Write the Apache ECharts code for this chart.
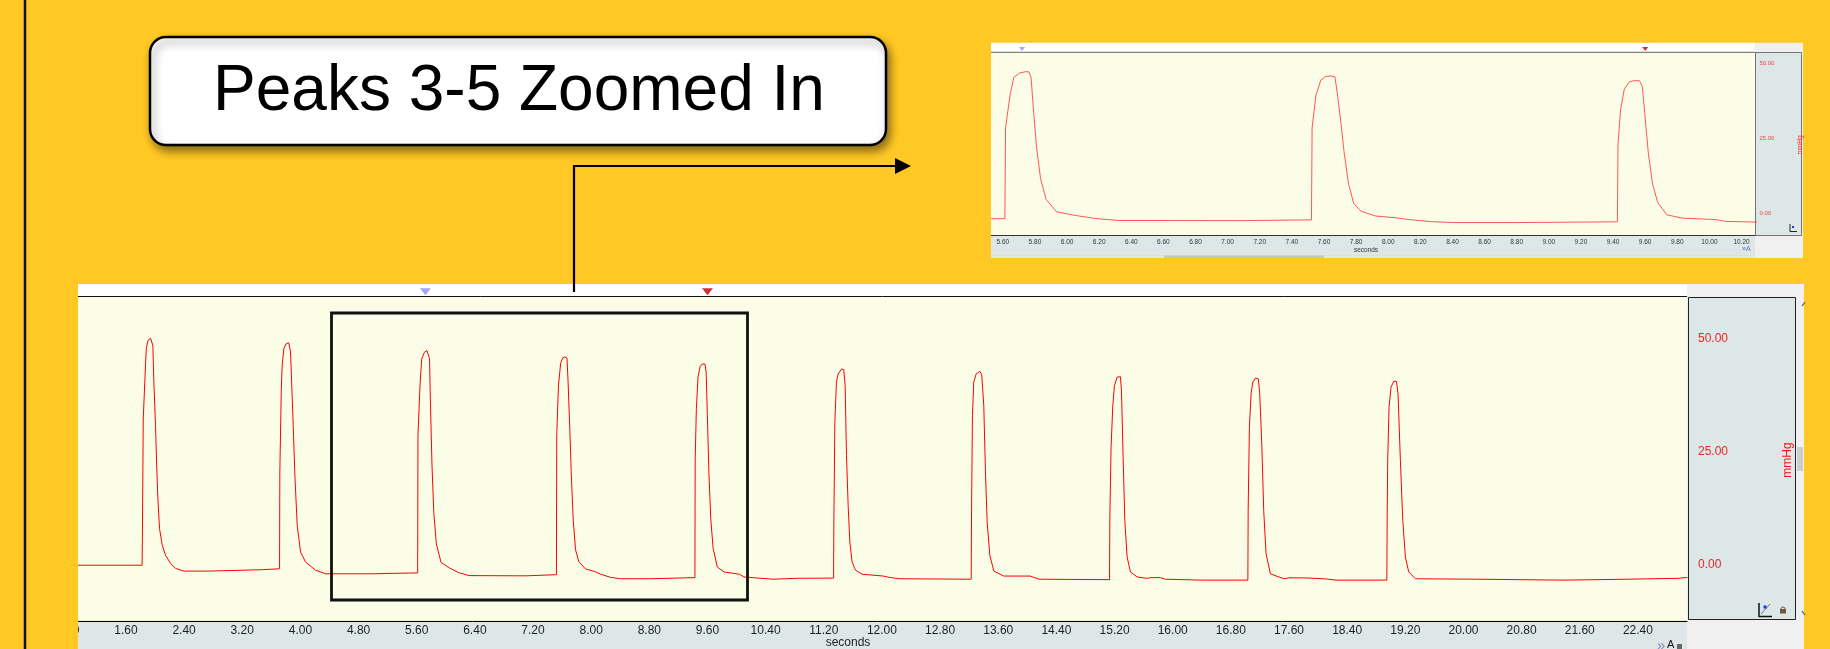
<!DOCTYPE html>
<html>
<head>
<meta charset="utf-8">
<title>Peaks 3-5 Zoomed In</title>
<script src="https://cdn.jsdelivr.net/npm/echarts@6/dist/echarts.min.js"></script>
<style>
    html, body { margin: 0; padding: 0; background: #FFC825; }
    #chart { width: 1830px; height: 649px; }
</style>
</head>
<body>
<div id="chart"></div>
<script>
// pressure trace, [seconds, mmHg], one array per beat
var beat1 = [[0.80, -0.2], [1.822, -0.2], [1.826, 6.0], [1.838, 32.2], [1.861, 41.0], [1.879, 47.6], [1.902, 49.5], [1.939, 50.0], [1.962, 50.1], [1.970, 48.4], [1.984, 40.3], [2.007, 30.7], [2.021, 22.6], [2.039, 14.5], [2.062, 7.9], [2.099, 4.2], [2.145, 2.0], [2.213, 0.2], [2.282, -0.9], [2.397, -1.5], [2.741, -1.5], [2.745, -1.3], [3.460, -1.2], [3.465, -1.0], [3.713, -1.0]];
var beat2 = [[3.717, 20.4], [3.736, 38.1], [3.749, 44.0], [3.772, 47.7], [3.804, 48.8], [3.841, 49.0], [3.864, 47.0], [3.873, 43.2], [3.901, 30.7], [3.924, 19.7], [3.956, 8.6], [4.002, 2.7], [4.071, 0.5], [4.208, -1.3], [4.346, -2.1], [4.988, -2.1], [4.992, -1.9], [5.613, -1.9]];
var beat3 = [[5.617, 28.5], [5.645, 39.5], [5.668, 45.4], [5.705, 46.9], [5.740, 47.3], [5.762, 47.3], [5.776, 45.5], [5.790, 35.0], [5.810, 22.0], [5.835, 11.5], [5.870, 4.5], [5.935, 0.4], [6.050, -0.8], [6.170, -1.8], [6.320, -2.5], [7.100, -2.55], [7.105, -2.3], [7.522, -2.3]];
var beat4 = [[7.526, 28.5], [7.550, 39.5], [7.580, 44.5], [7.610, 45.7], [7.640, 45.9], [7.668, 45.6], [7.682, 40.5], [7.706, 30.0], [7.725, 20.5], [7.752, 10.0], [7.785, 3.2], [7.830, 0.6], [7.920, -1.0], [8.050, -1.6], [8.130, -2.2], [8.270, -2.9], [8.400, -3.2], [8.800, -3.2], [8.805, -2.95], [9.427, -2.95]];
var beat5 = [[9.431, 23.3], [9.447, 34.5], [9.470, 41.5], [9.500, 43.8], [9.525, 44.3], [9.565, 44.3], [9.582, 42.5], [9.598, 33.0], [9.620, 20.0], [9.645, 10.0], [9.678, 3.5], [9.735, -0.6], [9.830, -1.7], [10.040, -2.2], [10.100, -2.8], [10.500, -3.3], [10.830, -3.1], [11.335, -3.05]];
var beat6 = [[11.338, 7.9], [11.352, 31.4], [11.374, 40.3], [11.397, 42.1], [11.443, 43.2], [11.475, 43.1], [11.494, 39.5], [11.512, 24.1], [11.535, 13.0], [11.558, 4.9], [11.590, 0.5], [11.636, -1.3], [11.727, -2.2], [12.020, -2.6], [12.100, -2.9], [12.250, -3.2], [13.228, -3.3]];
var beat7 = [[13.232, 10.0], [13.245, 32.9], [13.263, 40.3], [13.296, 42.1], [13.346, 42.7], [13.373, 41.9], [13.401, 35.1], [13.424, 20.4], [13.447, 9.4], [13.484, 2.0], [13.539, -1.5], [13.676, -2.6], [14.040, -2.6], [14.160, -3.3], [15.131, -3.4]];
var beat8 = [[15.135, 10.0], [15.152, 25.9], [15.175, 34.8], [15.198, 39.5], [15.235, 41.4], [15.281, 41.5], [15.295, 38.4], [15.318, 23.7], [15.341, 9.7], [15.373, 1.6], [15.419, -1.7], [15.510, -2.8], [15.648, -3.1], [15.700, -2.95], [15.830, -2.95], [15.900, -3.3], [16.380, -3.5], [17.034, -3.5]];
var beat9 = [[17.038, 12.0], [17.055, 30.3], [17.078, 37.7], [17.101, 40.3], [17.142, 41.2], [17.179, 41.0], [17.197, 37.7], [17.225, 26.7], [17.252, 11.9], [17.284, 2.4], [17.344, -2.1], [17.527, -3.2], [17.600, -3.0], [17.800, -3.0], [18.080, -3.2], [18.260, -3.5], [18.946, -3.5]];
var beat10 = [[18.950, 10.0], [18.958, 23.0], [18.976, 34.8], [19.004, 39.2], [19.041, 40.5], [19.078, 40.5], [19.100, 37.7], [19.132, 23.0], [19.165, 9.7], [19.201, 1.6], [19.247, -1.7], [19.339, -3.2], [20.180, -3.3], [20.190, -3.5], [21.370, -3.5], [21.380, -3.3], [22.260, -3.3], [22.270, -3.1], [22.950, -3.1], [22.960, -2.9], [23.080, -2.9]];

var cursorTimes = [5.72, 9.60];           // the two cursor flags on top of each trace
var cursorColors = ['#8e8ef0', '#c00000'];
var pressureLabels = [0, 25, 50];         // mmHg values that get a label

var trace = [].concat(beat1, beat2, beat3, beat4, beat5, beat6, beat7, beat8, beat9, beat10);

var yellow = '#FFC825';
var panelBg = '#DEE7E8';
var plotBg = '#FBFDE6';

function pressureLabel(v) {
    for (var i = 0; i < pressureLabels.length; i++) {
        if (Math.abs(v - pressureLabels[i]) < 1e-6) {
            return pressureLabels[i].toFixed(2);
        }
    }
    return '';
}

var chart = echarts.init(document.getElementById('chart'));

var option = {
    animation: false,
    backgroundColor: yellow,
    grid: [
        {   // full recording
            left: 67.8, top: 296, width: 1619.2, height: 324.8,
            show: true, backgroundColor: plotBg, borderWidth: 0
        },
        {   // zoomed copy, peaks 3-5
            left: 970.7, top: 52.3, width: 784.3, height: 183.1,
            show: true, backgroundColor: plotBg, borderWidth: 0
        }
    ],
    xAxis: [
        {
            gridIndex: 0, type: 'value', min: 0.8, max: 23.075, interval: 0.8,
            axisLine: { onZero: false, lineStyle: { color: '#000', width: 1 } },
            axisTick: { show: false },
            splitLine: { show: false },
            axisLabel: {
                margin: 4, fontSize: 12, color: '#1e1e1e',
                fontFamily: '"Liberation Sans", Arial, sans-serif',
                showMaxLabel: false,
                formatter: function(v) { return v.toFixed(2); }
            }
        },
        {
            gridIndex: 1, type: 'value', min: 5.4, max: 10.284, interval: 0.2,
            axisLine: { onZero: false, lineStyle: { color: '#333', width: 1 } },
            axisTick: { show: false },
            splitLine: { show: false },
            axisLabel: {
                margin: 3, fontSize: 6.5, color: '#333',
                fontFamily: '"Liberation Sans", Arial, sans-serif',
                showMaxLabel: false,
                formatter: function(v) { return v < 5.5 ? '' : v.toFixed(2); }
            }
        }
    ],
    yAxis: [
        {
            gridIndex: 0, type: 'value', position: 'right',
            min: -12.5, max: 59.36, interval: 12.5,
            axisLine: { show: false },
            axisTick: { show: false },
            splitLine: { show: false },
            axisLabel: {
                margin: 11, fontSize: 12, color: '#f02424',
                fontFamily: '"Liberation Sans", Arial, sans-serif',
                formatter: pressureLabel
            }
        },
        {
            gridIndex: 1, type: 'value', position: 'right',
            min: -7.5, max: 53.82, interval: 2.5,
            axisLine: { show: false },
            axisTick: { show: false },
            splitLine: { show: false },
            axisLabel: {
                margin: 4.4, fontSize: 6, color: '#f04848',
                fontFamily: '"Liberation Sans", Arial, sans-serif',
                formatter: pressureLabel
            }
        }
    ],
    series: [
        {
            type: 'line', xAxisIndex: 0, yAxisIndex: 0,
            data: trace, showSymbol: false, symbol: 'none',
            lineStyle: { color: '#ff0000', width: 1 }
        },
        {
            type: 'line', xAxisIndex: 1, yAxisIndex: 1,
            data: trace, showSymbol: false, symbol: 'none',
            lineStyle: { color: '#ff5656', width: 1 }
        },
        {
            type: 'scatter', xAxisIndex: 0, yAxisIndex: 0, clip: false,
            symbol: 'triangle', symbolRotate: 180, symbolSize: [11, 7],
            data: cursorTimes.map(function(t, i) {
                return { value: [t, 60.3], itemStyle: { color: cursorColors[i] } };
            })
        },
        {
            type: 'scatter', xAxisIndex: 1, yAxisIndex: 1, clip: false,
            symbol: 'triangle', symbolRotate: 180, symbolSize: [6, 4],
            data: cursorTimes.map(function(t, i) {
                return { value: [t, 54.9], itemStyle: { color: cursorColors[i] } };
            })
        }
    ],
    graphic: [
        // panel chrome of the full recording
        { type: 'rect', z: -5, shape: { x: 78, y: 284, width: 1609, height: 12 }, style: { fill: '#fff' } },
        { type: 'rect', z: -5, shape: { x: 1687, y: 284, width: 117, height: 365 }, style: { fill: '#F0F0F0' } },
        { type: 'rect', z: -4, shape: { x: 1688.5, y: 297.5, width: 107, height: 322 }, style: { fill: panelBg, stroke: '#222', lineWidth: 1 } },
        { type: 'rect', z: -5, shape: { x: 78, y: 621, width: 1609, height: 28 }, style: { fill: panelBg } },
        { type: 'rect', z: -4, shape: { x: 1797, y: 447, width: 6, height: 24 }, style: { fill: '#cdcdcd' } },
        { type: 'line', z: 1, shape: { x1: 78, y1: 296.5, x2: 1687, y2: 296.5 }, style: { stroke: '#111', lineWidth: 1 } },
        { type: 'polyline', z: 1, shape: { points: [[1802, 306], [1805, 302]] }, style: { stroke: '#555', lineWidth: 1.2 } },
        { type: 'polyline', z: 1, shape: { points: [[1802, 611], [1805, 615]] }, style: { stroke: '#555', lineWidth: 1.2 } },
        {
            type: 'text', z: 5, x: 1788, y: 460, rotation: Math.PI / 2,
            style: { text: 'mmHg', fontSize: 12, fontFamily: '"Liberation Sans", Arial, sans-serif', fill: '#ff1010', align: 'center', verticalAlign: 'middle' }
        },
        {
            type: 'text', z: 5, x: 848, y: 637,
            style: { text: 'seconds', fontSize: 12, fontFamily: '"Liberation Sans", Arial, sans-serif', fill: '#222', align: 'center', verticalAlign: 'top' }
        },
        {
            type: 'text', z: 5, x: 1657, y: 638,
            style: { text: '»', fontSize: 15, fontFamily: '"Liberation Sans", Arial, sans-serif', fill: '#8088c8', verticalAlign: 'top' }
        },
        {
            type: 'text', z: 5, x: 1667, y: 639,
            style: { text: 'A', fontSize: 11, fontFamily: '"Liberation Sans", Arial, sans-serif', fill: '#111', verticalAlign: 'top' }
        },
        { type: 'rect', z: 5, shape: { x: 1677, y: 644, width: 5, height: 5 }, style: { fill: '#666' } },
        // axis / lock icons
        { type: 'polyline', z: 5, shape: { points: [[1759, 603], [1759, 616.5], [1772, 616.5]] }, style: { stroke: '#111', lineWidth: 1.5, fill: null } },
        { type: 'line', z: 5, shape: { x1: 1761, y1: 614, x2: 1770, y2: 604 }, style: { stroke: '#555', lineWidth: 0.8 } },
        { type: 'rect', z: 5, shape: { x: 1763.5, y: 605.5, width: 3, height: 3 }, style: { fill: '#2030ff' } },
        { type: 'rect', z: 5, shape: { x: 1780, y: 609, width: 6, height: 4.5 }, style: { fill: '#6a5a40' } },
        { type: 'arc', z: 5, shape: { cx: 1783, cy: 609, r: 2, startAngle: Math.PI, endAngle: 0 }, style: { stroke: '#6a5a40', lineWidth: 1, fill: null } },

        // panel chrome of the zoomed copy
        { type: 'rect', z: -5, shape: { x: 991, y: 42.7, width: 764, height: 9.6 }, style: { fill: '#fff' } },
        { type: 'rect', z: -5, shape: { x: 1755, y: 42.7, width: 48, height: 215.3 }, style: { fill: '#F0F0F0' } },
        { type: 'rect', z: -4, shape: { x: 1755.5, y: 52.5, width: 46, height: 183 }, style: { fill: panelBg, stroke: '#555', lineWidth: 0.8 } },
        { type: 'rect', z: -5, shape: { x: 991, y: 235.4, width: 764, height: 20.1 }, style: { fill: panelBg } },
        { type: 'rect', z: -5, shape: { x: 991, y: 255.5, width: 764, height: 2.5 }, style: { fill: '#e6e6e6' } },
        { type: 'rect', z: -4, shape: { x: 1164, y: 255.5, width: 160, height: 2.5 }, style: { fill: '#c4c4c4' } },
        { type: 'line', z: 1, shape: { x1: 991, y1: 52.3, x2: 1755, y2: 52.3 }, style: { stroke: '#444', lineWidth: 0.8 } },
        {
            type: 'text', z: 5, x: 1800, y: 145, rotation: Math.PI / 2,
            style: { text: 'mmHg', fontSize: 6.5, fontFamily: '"Liberation Sans", Arial, sans-serif', fill: '#ff3030', align: 'center', verticalAlign: 'middle' }
        },
        {
            type: 'text', z: 5, x: 1366, y: 250,
            style: { text: 'seconds', fontSize: 6.5, fontFamily: '"Liberation Sans", Arial, sans-serif', fill: '#333', align: 'center', verticalAlign: 'middle' }
        },
        {
            type: 'text', z: 5, x: 1742, y: 246,
            style: { text: '»A', fontSize: 7, fontFamily: '"Liberation Sans", Arial, sans-serif', fill: '#6070b0', verticalAlign: 'top' }
        },
        { type: 'polyline', z: 5, shape: { points: [[1790, 224], [1790, 231.5], [1797, 231.5]] }, style: { stroke: '#222', lineWidth: 1, fill: null } },
        { type: 'rect', z: 5, shape: { x: 1792, y: 226, width: 2, height: 2 }, style: { fill: '#2030ff' } },

        // cover the bits of the axes that fall outside the panels
        { type: 'rect', z: 100, shape: { x: 26.4, y: 280, width: 51.6, height: 369 }, style: { fill: yellow } },
        { type: 'rect', z: 100, shape: { x: 950, y: 38, width: 41, height: 224 }, style: { fill: yellow } },

        // box around peaks 3-5
        { type: 'rect', z: 10, shape: { x: 331.5, y: 313, width: 416, height: 287 }, style: { fill: 'none', stroke: '#111', lineWidth: 2.8 } },

        // left rule
        { type: 'line', z: 101, shape: { x1: 25, y1: 0, x2: 25, y2: 649 }, style: { stroke: '#111', lineWidth: 2.5 } },

        // callout
        {
            type: 'rect', z: 20, shape: { x: 150, y: 37, width: 736, height: 108, r: 16 },
            style: { fill: '#fff', stroke: '#000', lineWidth: 2.5, shadowBlur: 8, shadowOffsetX: 3, shadowOffsetY: 5, shadowColor: 'rgba(0,0,0,0.45)' }
        },
        {
            type: 'text', z: 21, x: 519, y: 92,
            style: { text: 'Peaks 3-5 Zoomed In', fontSize: 64, fontFamily: '"Liberation Sans", Arial, sans-serif', fill: '#000', align: 'center', verticalAlign: 'middle' }
        },
        { type: 'polyline', z: 20, shape: { points: [[574, 292], [574, 166], [897, 166]] }, style: { stroke: '#000', lineWidth: 2.2, fill: null } },
        { type: 'polygon', z: 20, shape: { points: [[895, 158], [911, 166], [895, 174]] }, style: { fill: '#000' } }
    ]
};

chart.setOption(option);
</script>
</body>
</html>
